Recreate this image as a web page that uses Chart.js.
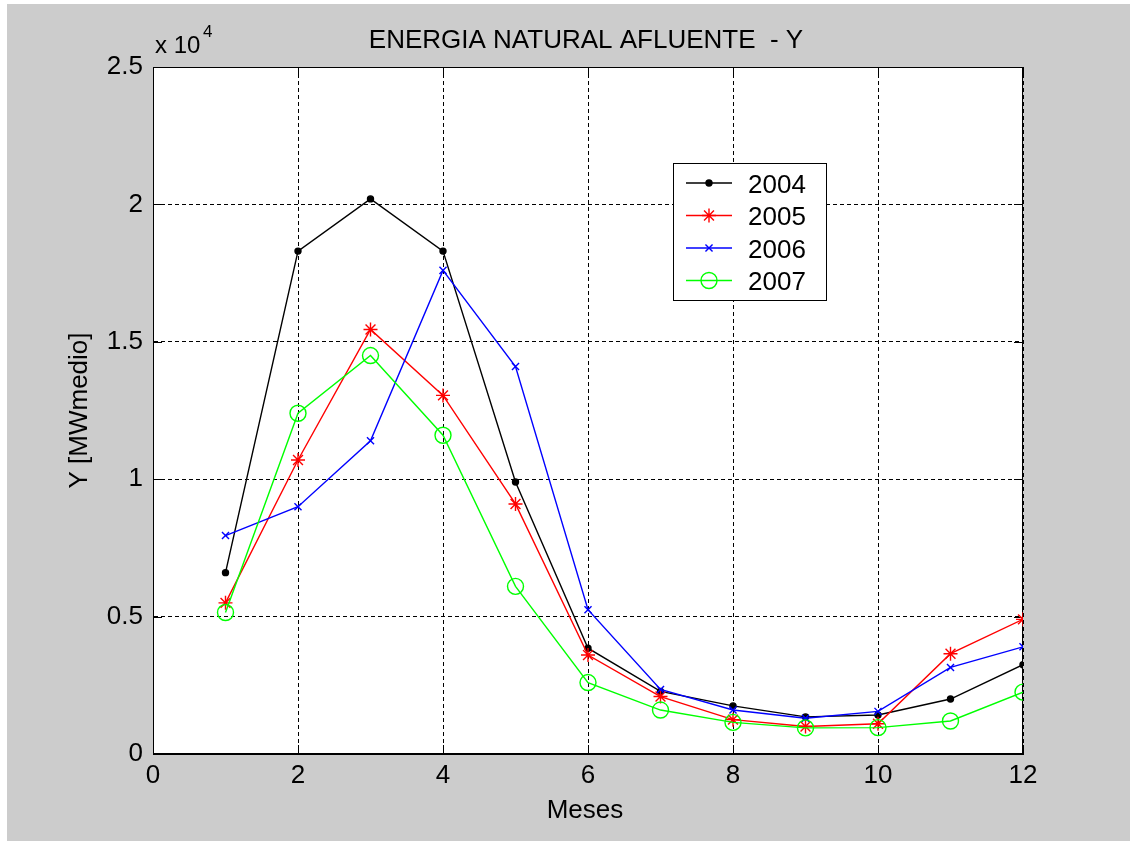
<!DOCTYPE html>
<html>
<head>
<meta charset="utf-8">
<title>ENERGIA NATURAL AFLUENTE - Y</title>
<script src="https://cdn.jsdelivr.net/npm/chart.js@4.4.1/dist/chart.umd.min.js"></script>
<style>
  html, body { margin: 0; padding: 0; background: #ffffff; }
  #wrap { width: 1130px; height: 841px; }
</style>
</head>
<body>
<div id="wrap"><canvas id="enaChart" width="1130" height="841"></canvas></div>
<script>
// months on the x axis
const meses = [1, 2, 3, 4, 5, 6, 7, 8, 9, 10, 11, 12];

// values (MWmedio)
const y2004 = [6600, 18300, 20200, 18300, 9900, 3850, 2280, 1750, 1350, 1420, 2000, 3250];
const y2005 = [5500, 10700, 15450, 13050, 9100, 3600, 2090, 1250, 1000, 1100, 3650, 4900];
const y2006 = [7950, 9000, 11400, 17600, 14100, 5250, 2350, 1600, 1300, 1550, 3150, 3900];
const y2007 = [5150, 12400, 14500, 11600, 6100, 2600, 1600, 1150, 950, 960, 1200, 2250];

const seriesNames = ['2004', '2005', '2006', '2007'];
const xTicks = [0, 2, 4, 6, 8, 10, 12];
const yTicks = [0, 5000, 10000, 15000, 20000, 25000];

const FONT = "'Liberation Sans', Arial, Helvetica, sans-serif";

function toPoints(vals) {
  return meses.map((m, i) => ({ x: m, y: vals[i] }));
}

// marker settings, same for the plot and the legend
const styles = [
  { color: '#000000', pointStyle: 'circle', radius: 3, fill: '#000000' },
  { color: '#ff0000', pointStyle: 'star', radius: 7, fill: '#ff0000' },
  { color: '#0000ff', pointStyle: 'crossRot', radius: 5, fill: '#0000ff' },
  { color: '#00ff00', pointStyle: 'circle', radius: 8, fill: 'rgba(0,0,0,0)' },
];
const LINE_W = 1.4;

const allValues = [y2004, y2005, y2006, y2007];

// paint figure background, axes box, ticks, titles and legend like matlab does
const matlabFrame = {
  id: 'matlabFrame',
  beforeDraw(chart) {
    const ctx = chart.ctx;
    const a = chart.chartArea;
    ctx.save();
    ctx.fillStyle = '#ffffff';
    ctx.fillRect(0, 0, chart.width, chart.height);
    ctx.fillStyle = '#cccccc';
    ctx.fillRect(7, 4, chart.width - 7, chart.height - 4);
    ctx.fillStyle = '#ffffff';
    ctx.fillRect(a.left, a.top, a.right - a.left, a.bottom - a.top);
    ctx.restore();
  },
  beforeDatasetsDraw(chart) {
    const ctx = chart.ctx;
    const a = chart.chartArea;
    const xs = chart.scales.x;
    const ys = chart.scales.y;
    const tl = 9;
    ctx.save();
    ctx.strokeStyle = '#000000';
    ctx.lineWidth = 1;
    ctx.setLineDash([]);
    ctx.strokeRect(a.left + 0.5, a.top + 0.5, a.right - a.left - 1, a.bottom - a.top - 1);
    ctx.beginPath();
    xTicks.forEach(v => {
      const px = Math.round(xs.getPixelForValue(v)) + 0.5;
      ctx.moveTo(px, a.bottom); ctx.lineTo(px, a.bottom - tl);
      ctx.moveTo(px, a.top); ctx.lineTo(px, a.top + tl);
    });
    yTicks.forEach(v => {
      const py = Math.round(ys.getPixelForValue(v)) + 0.5;
      ctx.moveTo(a.left, py); ctx.lineTo(a.left + tl, py);
      ctx.moveTo(a.right, py); ctx.lineTo(a.right - tl, py);
    });
    ctx.stroke();
    ctx.restore();
  },
  afterDraw(chart) {
    const ctx = chart.ctx;
    const a = chart.chartArea;
    ctx.save();
    ctx.fillStyle = '#000000';

    // title
    ctx.font = '26px ' + FONT;
    ctx.textAlign = 'center';
    ctx.textBaseline = 'alphabetic';
    ctx.fillText('ENERGIA NATURAL AFLUENTE  - Y', 586, 48);

    // x label
    ctx.fillText('Meses', 585, 818);

    // y label
    ctx.save();
    ctx.translate(87, (a.top + a.bottom) / 2);
    ctx.rotate(-Math.PI / 2);
    ctx.fillText('Y [MWmedio]', 0, 0);
    ctx.restore();

    // exponent label
    ctx.textAlign = 'left';
    ctx.font = '24px ' + FONT;
    ctx.fillText('x 10', 155, 53);
    ctx.font = '17px ' + FONT;
    ctx.fillText('4', 203, 37);

    // legend
    const bx = 673, by = 163, bw = 153, bh = 137;
    ctx.fillStyle = '#ffffff';
    ctx.fillRect(bx, by, bw, bh);
    ctx.strokeStyle = '#000000';
    ctx.lineWidth = 1;
    ctx.strokeRect(bx + 0.5, by + 0.5, bw, bh);
    ctx.font = '26px ' + FONT;
    seriesNames.forEach((name, i) => {
      const st = styles[i];
      const ry = 183 + i * 32.5;
      ctx.strokeStyle = st.color;
      ctx.lineWidth = LINE_W;
      ctx.beginPath();
      ctx.moveTo(686, ry);
      ctx.lineTo(732, ry);
      ctx.stroke();
      ctx.fillStyle = st.fill;
      Chart.helpers.drawPoint(ctx, {
        pointStyle: st.pointStyle, radius: st.radius, rotation: 0, borderWidth: LINE_W
      }, 709, ry);
      ctx.fillStyle = '#000000';
      ctx.fillText(name, 748, ry + 9.5);
    });
    ctx.restore();
  }
};

const ctx = document.getElementById('enaChart').getContext('2d');
const enaChart = new Chart(ctx, {
  type: 'line',
  data: {
    datasets: allValues.map((vals, i) => ({
      label: seriesNames[i],
      data: toPoints(vals),
      borderColor: styles[i].color,
      backgroundColor: styles[i].fill,
      pointBackgroundColor: styles[i].fill,
      pointBorderColor: styles[i].color,
      pointStyle: styles[i].pointStyle,
      pointRadius: styles[i].radius,
      pointBorderWidth: LINE_W,
      borderWidth: LINE_W,
      tension: 0,
      fill: false,
      order: 4 - i,
    })),
  },
  options: {
    responsive: false,
    animation: false,
    events: [],
    layout: {
      padding: { left: 0, top: 67, right: 107, bottom: 0 },
    },
    plugins: {
      legend: { display: false },
      tooltip: { enabled: false },
      title: { display: false },
    },
    scales: {
      x: {
        type: 'linear',
        min: 0,
        max: 12,
        afterFit(scale) { scale.height = 87; },
        afterBuildTicks(scale) { scale.ticks = xTicks.map(v => ({ value: v })); },
        grid: { color: '#000000', lineWidth: 1, drawTicks: false },
        border: { display: true, color: '#000000', width: 1, dash: [4, 3] },
        ticks: {
          color: '#000000',
          font: { family: FONT, size: 26 },
          padding: 6,
          maxRotation: 0,
        },
      },
      y: {
        type: 'linear',
        min: 0,
        max: 25000,
        afterFit(scale) { scale.width = 153; },
        afterBuildTicks(scale) { scale.ticks = yTicks.map(v => ({ value: v })); },
        grid: { color: '#000000', lineWidth: 1, drawTicks: false },
        border: { display: true, color: '#000000', width: 1, dash: [4, 3] },
        ticks: {
          color: '#000000',
          font: { family: FONT, size: 26 },
          padding: 10,
          callback: (v) => String(v / 10000),
        },
      },
    },
  },
  plugins: [matlabFrame],
});
</script>
</body>
</html>
